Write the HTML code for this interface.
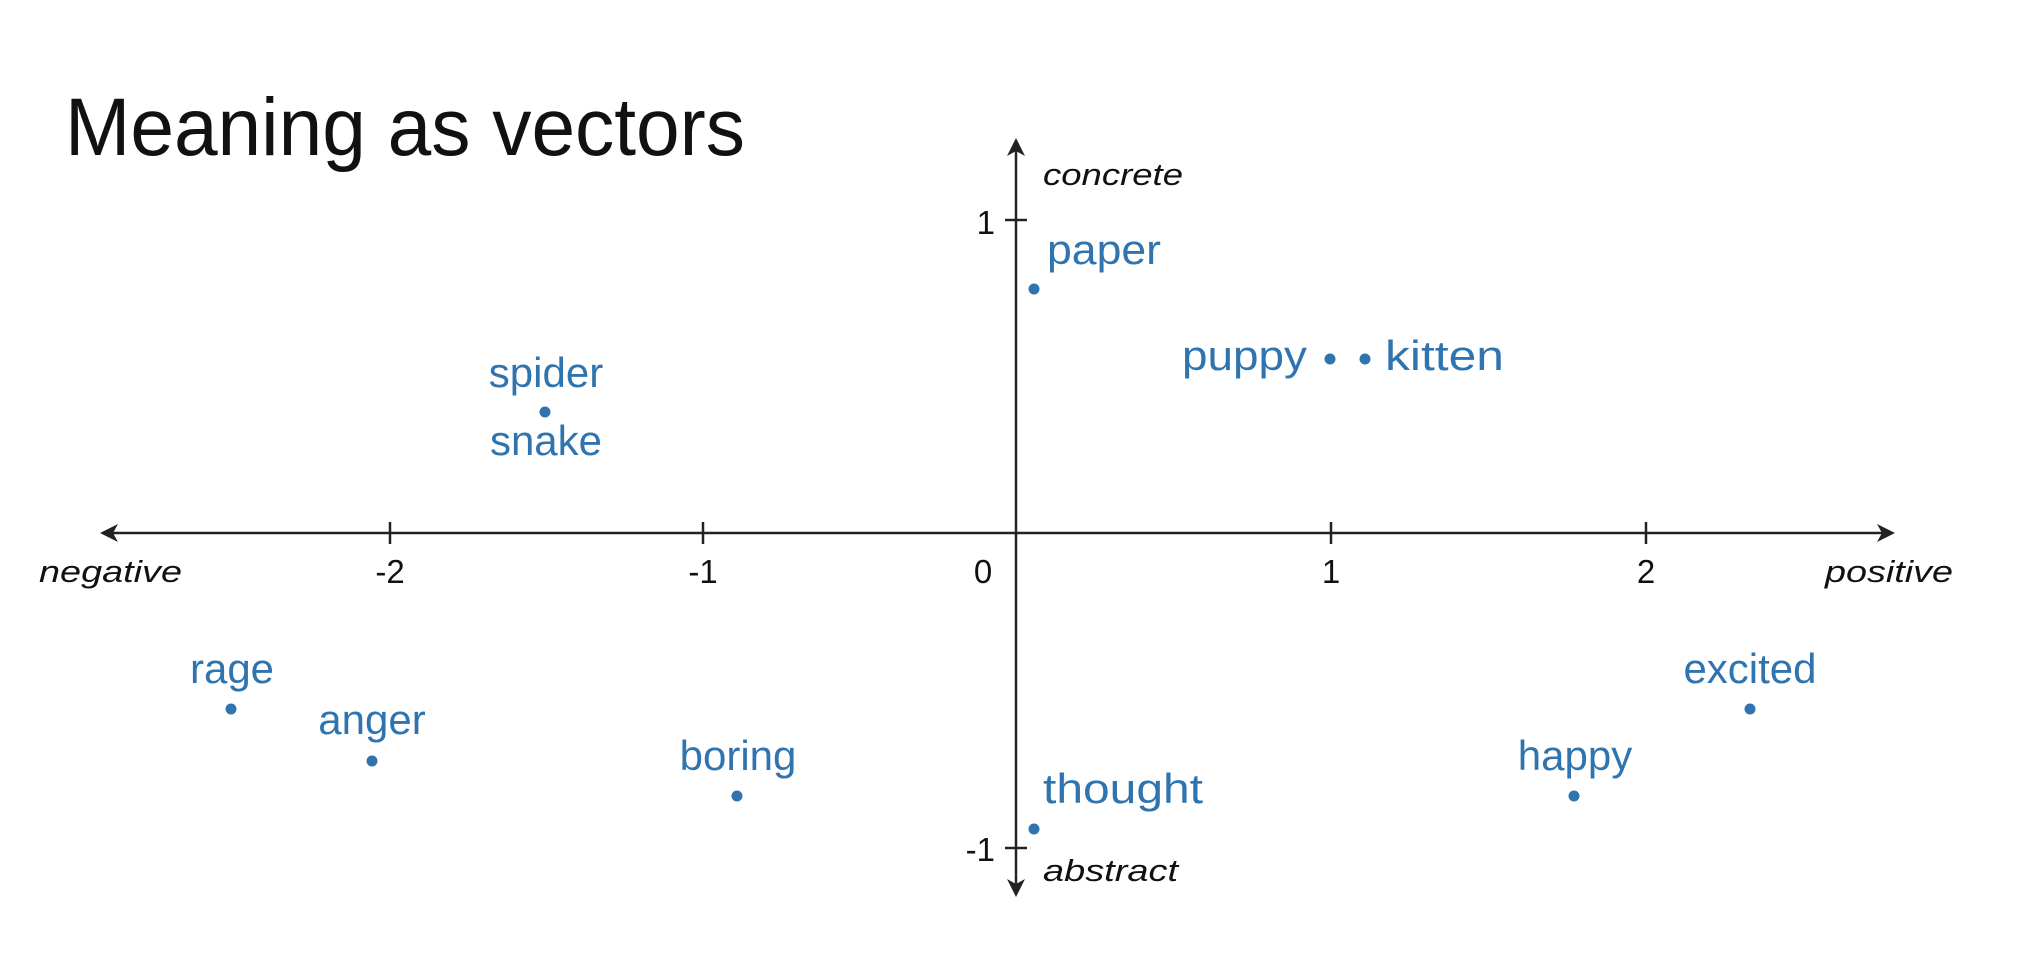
<!DOCTYPE html>
<html><head><meta charset="utf-8"><style>
html,body{margin:0;padding:0;background:#fff;}
svg{display:block}
text{font-family:"Liberation Sans","DejaVu Sans",sans-serif;}
.b{fill:#2f74ae;font-size:42px;}
.k{fill:#111;font-size:33px;}
.i{fill:#111;font-size:31px;font-style:italic;}
</style></head><body>
<svg width="2029" height="977" viewBox="0 0 2029 977" xmlns="http://www.w3.org/2000/svg">
<rect width="2029" height="977" fill="#fff"/>
<text x="65" y="155" font-size="82" fill="#111" textLength="680" lengthAdjust="spacingAndGlyphs">Meaning as vectors</text>
<g stroke="#222" stroke-width="2.5" fill="none">
<line x1="104" y1="533" x2="1890" y2="533"/>
<line x1="1016" y1="143" x2="1016" y2="892"/>
<line x1="390" y1="522" x2="390" y2="544"/>
<line x1="703" y1="522" x2="703" y2="544"/>
<line x1="1331" y1="522" x2="1331" y2="544"/>
<line x1="1646" y1="522" x2="1646" y2="544"/>
<line x1="1005" y1="220" x2="1027" y2="220"/>
<line x1="1005" y1="848" x2="1027" y2="848"/>
</g>
<g fill="#222">
<path d="M100 533 L118 524 L113 533 L118 542 Z"/>
<path d="M1895 533 L1877 524 L1882 533 L1877 542 Z"/>
<path d="M1016 138 L1007 156 L1016 151 L1025 156 Z"/>
<path d="M1016 897 L1007 879 L1016 884 L1025 879 Z"/>
</g>
<g text-anchor="middle">
<text x="390" y="583" class="k">-2</text>
<text x="703" y="583" class="k">-1</text>
<text x="983" y="583" class="k">0</text>
<text x="1331" y="583" class="k">1</text>
<text x="1646" y="583" class="k">2</text>
</g>
<text x="995" y="234" class="k" text-anchor="end">1</text>
<text x="995" y="861" class="k" text-anchor="end">-1</text>
<text x="39" y="582" class="i" textLength="143" lengthAdjust="spacingAndGlyphs">negative</text>
<text x="1825" y="582" class="i" textLength="128" lengthAdjust="spacingAndGlyphs">positive</text>
<text x="1043" y="185" class="i" textLength="140" lengthAdjust="spacingAndGlyphs">concrete</text>
<text x="1043" y="881" class="i" textLength="135" lengthAdjust="spacingAndGlyphs">abstract</text>
<g fill="#2f74ae">
<circle cx="1034" cy="289" r="5.5"/>
<circle cx="1330" cy="359" r="5.5"/>
<circle cx="1365" cy="359" r="5.5"/>
<circle cx="545" cy="412" r="5.5"/>
<circle cx="231" cy="709" r="5.5"/>
<circle cx="372" cy="761" r="5.5"/>
<circle cx="737" cy="796" r="5.5"/>
<circle cx="1034" cy="829" r="5.5"/>
<circle cx="1574" cy="796" r="5.5"/>
<circle cx="1750" cy="709" r="5.5"/>
</g>
<text class="b" x="1047" y="264" textLength="114" lengthAdjust="spacingAndGlyphs">paper</text>
<text class="b" x="1182" y="370" textLength="125" lengthAdjust="spacingAndGlyphs">puppy</text>
<text class="b" x="1385" y="370" textLength="119" lengthAdjust="spacingAndGlyphs">kitten</text>
<g text-anchor="middle">
<text class="b" x="546" y="387">spider</text>
<text class="b" x="546" y="455">snake</text>
<text class="b" x="232" y="683">rage</text>
<text class="b" x="372" y="734">anger</text>
<text class="b" x="738" y="770">boring</text>
<text class="b" x="1575" y="770">happy</text>
<text class="b" x="1750" y="683">excited</text>
</g>
<text class="b" x="1043" y="803" textLength="160" lengthAdjust="spacingAndGlyphs">thought</text>
</svg>
</body></html>
